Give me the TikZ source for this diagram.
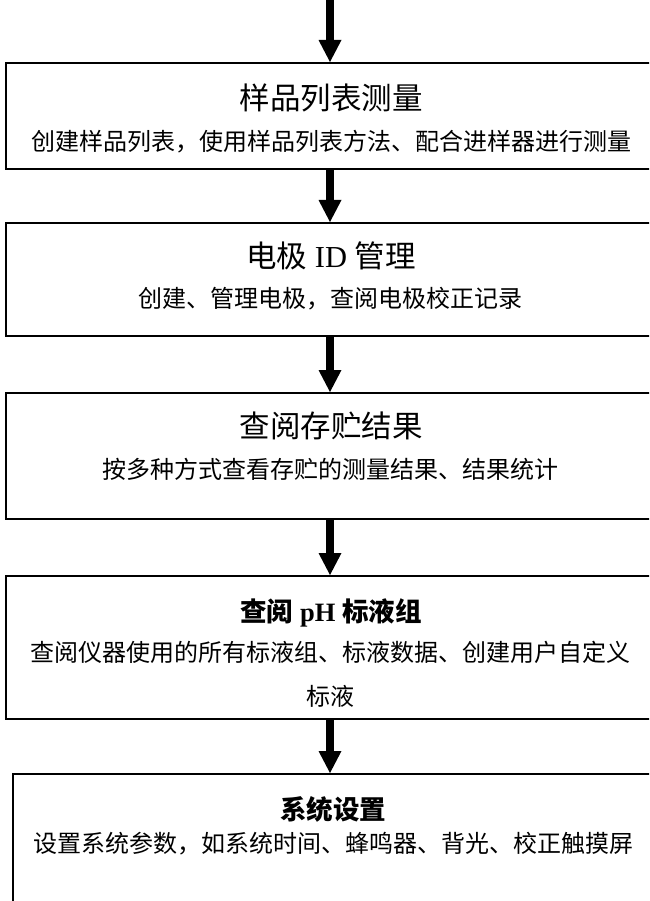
\documentclass[tikz,border=0pt]{standalone}
\usepackage{fontspec}
\setmainfont{Liberation Serif}
\newfontfamily\cjk{Noto Sans CJK SC}
\usetikzlibrary{arrows.meta}
\tikzset{
  box/.style={draw=black, line width=2pt, fill=none, inner sep=0pt, anchor=north west},
  ttl/.style={inner sep=0pt, font=\fontsize{30.5}{33}\selectfont},
  btl/.style={inner sep=0pt, font=\fontsize{26.5}{30}\selectfont\bfseries},
  sub/.style={inner sep=0pt, align=center, font=\fontsize{24}{44}\selectfont},
  arr/.style={line width=8pt, -{Triangle[width=23pt,length=22pt,line width=0pt]}}
}
\begin{document}
\begin{tikzpicture}[x=1pt,y=-1pt]
\useasboundingbox (0,0) rectangle (649,901);
\clip (0,0) rectangle (649,901);
\coordinate (top) at (330,-2);
\coordinate (ax) at (330,0);
% boxes
\node[box, minimum width=700pt, minimum height=106pt] (b1) at (5,62) {};
\node[box, minimum width=700pt, minimum height=113pt] (b2) at (5,222) {};
\node[box, minimum width=700pt, minimum height=126pt] (b3) at (5,392) {};
\node[box, minimum width=700pt, minimum height=143pt] (b4) at (5,575) {};
\node[box, minimum width=700pt, minimum height=200pt] (b5) at (12,773) {};
% texts
\node[ttl] (t1) at (331,98) {\cjk 样品列表测量};
\node[sub] (s1) at (331,142) {\cjk 创建样品列表，使用样品列表方法、配合进样器进行测量};
\node[ttl] (t2) at (331,256) {{\cjk 电极} ID {\cjk 管理}};
\node[sub] (s2) at (330,299) {\cjk 创建、管理电极，查阅电极校正记录};
\node[ttl] (t3) at (331,426) {\cjk 查阅存贮结果};
\node[sub] (s3) at (330,469) {\cjk 按多种方式查看存贮的测量结果、结果统计};
\node[btl] (t4) at (331,613) {{\cjk 查阅} pH {\cjk 标液组}};
\node[sub] (s4) at (330,674) {\cjk 查阅仪器使用的所有标液组、标液数据、创建用户自定义\\\cjk 标液};
\node[btl] (t5) at (333,809) {\cjk 系统设置};
\node[sub] (s5) at (333,844) {\cjk 设置系统参数，如系统时间、蜂鸣器、背光、校正触摸屏};
% arrows
\draw[arr] (top) -- (b1.north -| ax);
\draw[arr] (b1.south -| ax) -- (b2.north -| ax);
\draw[arr] (b2.south -| ax) -- (b3.north -| ax);
\draw[arr] (b3.south -| ax) -- (b4.north -| ax);
\draw[arr] (b4.south -| ax) -- (b5.north -| ax);
\end{tikzpicture}
\end{document}
